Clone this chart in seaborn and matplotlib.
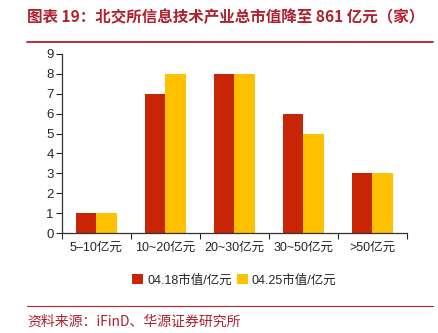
import matplotlib
matplotlib.use("Agg")
import matplotlib.pyplot as plt
import seaborn as sns
import pandas as pd
from matplotlib.lines import Line2D

categories = ["5~10亿元", "10~20亿元", "20~30亿元", "30~50亿元", ">50亿元"]
tick_labels = ["5–10亿元", "10~20亿元", "20~30亿元", "30~50亿元", ">50亿元"]
series_names = ["04.18市值/亿元", "04.25市值/亿元"]
values_0418 = [1, 7, 8, 6, 3]
values_0425 = [1, 8, 8, 5, 3]

df = pd.DataFrame({
    "区间": categories * 2,
    "数量": values_0418 + values_0425,
    "日期": [series_names[0]] * len(categories) + [series_names[1]] * len(categories),
})

sns.set_theme(style="ticks")
plt.rcParams["font.family"] = ["Noto Sans CJK SC", "DejaVu Sans"]

red = "#C82506"
yellow = "#FFC000"
title_red = "#B0202E"

fig = plt.figure(figsize=(4.39, 3.33), dpi=100)
ax = fig.add_axes([0.141, 0.300, 0.786, 0.538])

sns.barplot(data=df, x="区间", y="数量", hue="日期", palette=[red, yellow],
            width=0.6, saturation=1, ax=ax, legend=True, linewidth=0)

ax.set_ylim(0, 9)
ax.set_yticks(range(0, 10))
ax.set_xlim(-0.5, len(categories) - 0.5)
ax.set_xlabel("")
ax.set_ylabel("")
ax.set_xticks([i for i in range(len(categories))])
ax.set_xticklabels(tick_labels, fontsize=9, family=["Liberation Sans", "Noto Sans CJK SC"])
ax.tick_params(axis="x", length=0, pad=6)
ax.tick_params(axis="y", labelsize=9.5, length=4, width=0.8, direction="out", pad=2)
for lab in ax.get_yticklabels():
    lab.set_family(["Liberation Sans"])
# category-boundary ticks on the x axis
ax.set_xticks([i - 0.5 for i in range(len(categories) + 1)], minor=True)
ax.tick_params(axis="x", which="minor", length=4, width=0.8, direction="out")

for side in ["top", "right"]:
    ax.spines[side].set_visible(False)
for side in ["left", "bottom"]:
    ax.spines[side].set_color("#333333")
    ax.spines[side].set_linewidth(0.9)

leg = ax.legend(loc="upper center", bbox_to_anchor=(0.5, -0.165), ncol=2, frameon=False,
                fontsize=9, handlelength=0.9, handleheight=0.9, handletextpad=0.3,
                columnspacing=0.4,
                prop={"family": ["Liberation Sans", "Noto Sans CJK SC"], "size": 9})

fig.text(0.062, 0.948, "图表 19：北交所信息技术产业总市值降至 861 亿元（家）",
         color=title_red, fontsize=11.2, fontweight="bold", va="center", ha="left")
fig.add_artist(Line2D([0.062, 0.986], [0.874, 0.874], color=title_red, linewidth=1.3,
                      transform=fig.transFigure))
fig.add_artist(Line2D([0.062, 0.986], [0.081, 0.081], color=title_red, linewidth=0.8,
                      transform=fig.transFigure))
fig.text(0.062, 0.033, "资料来源：iFinD、华源证券研究所", color=title_red, fontsize=10,
         va="center", ha="left")

fig.savefig("out.png", dpi=100)
